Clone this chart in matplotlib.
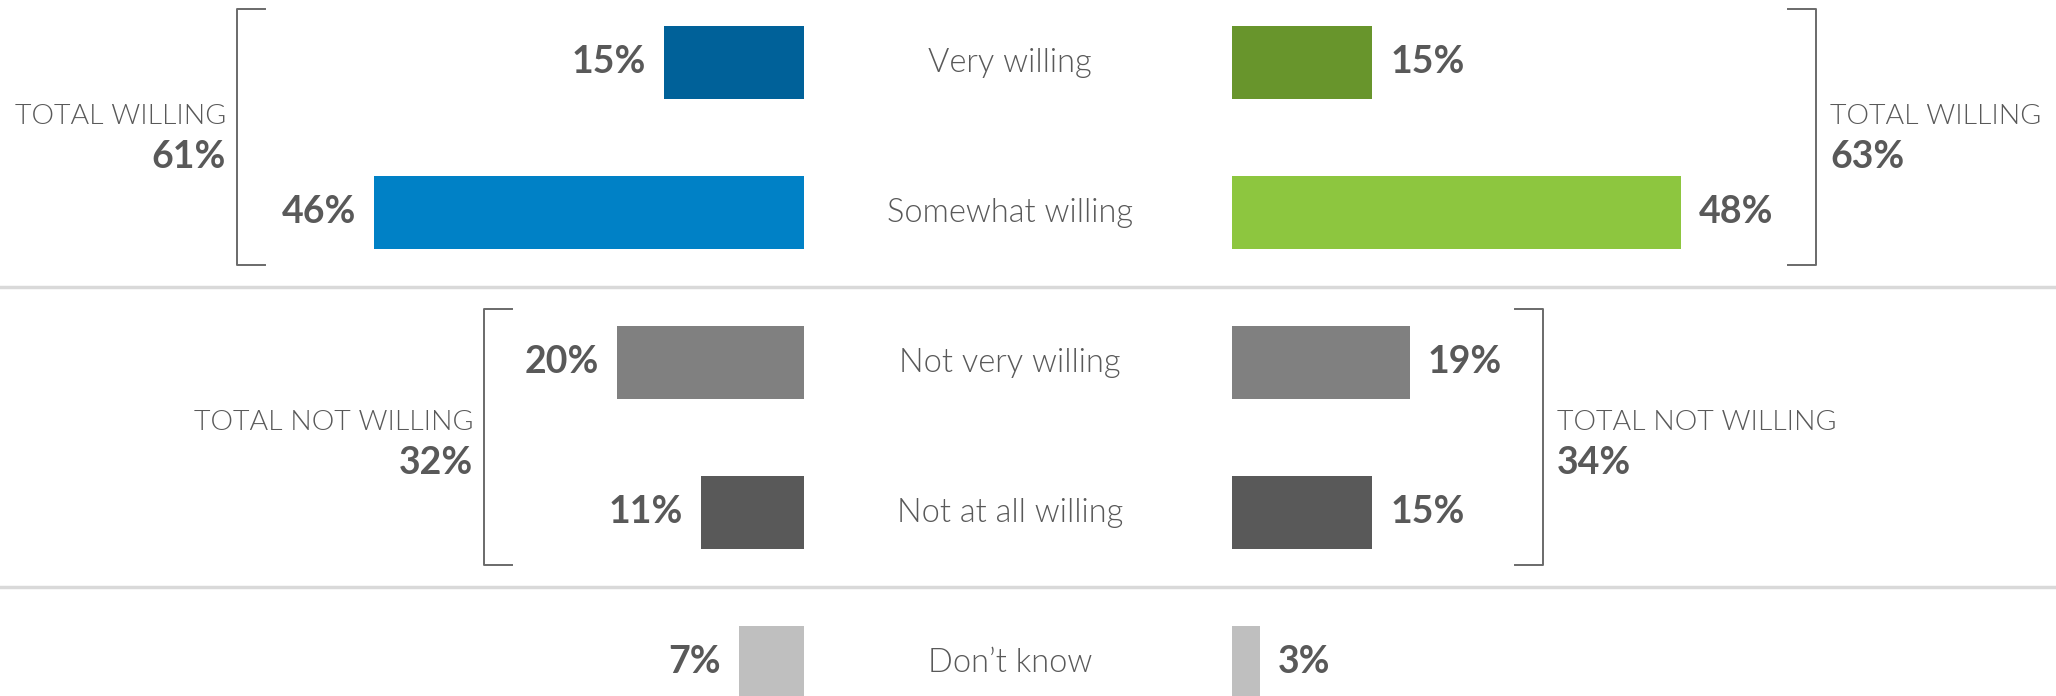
import matplotlib.pyplot as plt

# survey answers, top to bottom
categories = ["Very willing", "Somewhat willing", "Not very willing",
              "Not at all willing", "Don\u2019t know"]
left_values = [15, 46, 20, 11, 7]
right_values = [15, 48, 19, 15, 3]
left_colors = ["#006199", "#0081c6", "#808080", "#595959", "#bfbfbf"]
right_colors = ["#68952c", "#8dc63f", "#808080", "#595959", "#bfbfbf"]

# bracket groups
groups = ["TOTAL WILLING", "TOTAL NOT WILLING"]
left_totals = [61, 32]
right_totals = [63, 34]

TEXT = "#595959"
W, H = 2056, 696
PX_PER_PCT = 9.35
LEFT_BASE, RIGHT_BASE = 804, 1232
ROW0, ROW_STEP = 62, 150  # pixel centre of first row, row spacing
BAR_H = 73 / ROW_STEP

plt.rcParams["font.family"] = ["Lato", "DejaVu Sans"]

fig = plt.figure(figsize=(W / 100, H / 100), dpi=100)
ylim = ((H - ROW0) / ROW_STEP, -ROW0 / ROW_STEP)

ax_l = fig.add_axes([0, 0, LEFT_BASE / W, 1])
ax_r = fig.add_axes([RIGHT_BASE / W, 0, (W - RIGHT_BASE) / W, 1])
ax = fig.add_axes([0, 0, 1, 1])
ax.patch.set_alpha(0)

ax_l.set_xlim(LEFT_BASE / PX_PER_PCT, 0)
ax_r.set_xlim(0, (W - RIGHT_BASE) / PX_PER_PCT)
ax.set_xlim(0, W)
for a in (ax_l, ax_r, ax):
    a.set_ylim(*ylim)
    a.axis("off")

rows = list(range(len(categories)))
ax_l.barh(rows, left_values, height=BAR_H, color=left_colors)
ax_r.barh(rows, right_values, height=BAR_H, color=right_colors)

val_font = dict(fontsize=27, fontweight="bold", color=TEXT, va="center")
lab_font = dict(fontweight=300, color=TEXT, va="center")
for i in rows:
    ax_l.annotate(f"{left_values[i]}%", (left_values[i], i), xytext=(-18, 0),
                  textcoords="offset pixels", ha="right", **val_font)
    ax_r.annotate(f"{right_values[i]}%", (right_values[i], i), xytext=(18, 0),
                  textcoords="offset pixels", ha="left", **val_font)
    ax.text(1010, i + 0.01, categories[i], ha="center", fontsize=23.5, **lab_font)

# separators between groups
for y in (1.5, 3.5):
    ax.axhline(y, color="#d9d9d9", lw=2.5)

# brackets with group totals
bracket_x = [(237, 1816), (484, 1543)]
bracket_rows = [(0, 1), (2, 3)]
label_mid = [0.5, 2.535]
hook = 28
pad = 0.353
for g, label in enumerate(groups):
    xl, xr = bracket_x[g]
    y0 = bracket_rows[g][0] - pad
    y1 = bracket_rows[g][1] + pad
    ax.plot([xl + hook, xl, xl, xl + hook], [y0, y0, y1, y1],
            color="#6a6a6a", lw=1.4, solid_joinstyle="round")
    ax.plot([xr - hook, xr, xr, xr - hook], [y0, y0, y1, y1],
            color="#6a6a6a", lw=1.4, solid_joinstyle="round")
    ym = label_mid[g]
    ax.text(xl - 11, ym - 0.135, label, ha="right", fontsize=20.5, **lab_font)
    ax.text(xl - 11, ym + 0.135, f"{left_totals[g]}%", ha="right",
            **val_font)
    ax.text(xr + 14, ym - 0.135, label, ha="left", fontsize=20.5, **lab_font)
    ax.text(xr + 14, ym + 0.135, f"{right_totals[g]}%", ha="left",
            **val_font)

fig.savefig("out.png", dpi=100)
